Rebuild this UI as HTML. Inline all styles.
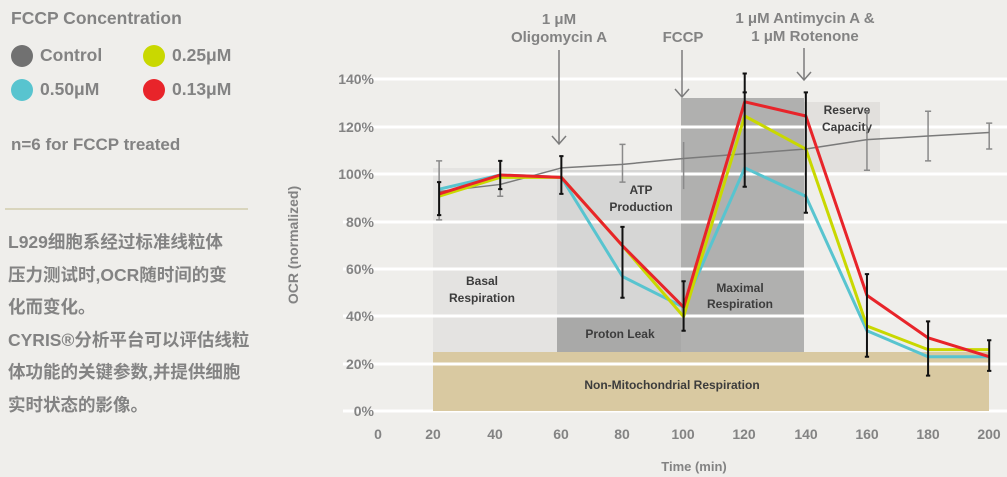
<!DOCTYPE html>
<html><head><meta charset="utf-8"><style>
body{margin:0;width:1007px;height:477px;background:#efeeeb;overflow:hidden;font-family:"Liberation Sans","Noto Sans CJK SC",sans-serif;}
.t{position:absolute;color:#838383;font-weight:bold;white-space:nowrap;}
.dot{position:absolute;width:22px;height:22px;border-radius:50%;}
</style></head><body>
<div class="t" style="left:11px;top:8px;font-size:17.5px;">FCCP Concentration</div>
<div class="dot" style="left:11px;top:45px;background:#717171"></div><div class="t" style="left:40px;top:45px;font-size:17.5px;">Control</div>
<div class="dot" style="left:143px;top:45px;background:#c9d800"></div><div class="t" style="left:172px;top:45px;font-size:17.5px;">0.25μM</div>
<div class="dot" style="left:11px;top:79px;background:#58c4cf"></div><div class="t" style="left:40px;top:79px;font-size:17.5px;">0.50μM</div>
<div class="dot" style="left:143px;top:79px;background:#e8242a"></div><div class="t" style="left:172px;top:79px;font-size:17.5px;">0.13μM</div>
<div class="t" style="left:11px;top:135px;font-size:17px;">n=6 for FCCP treated</div>
<div style="position:absolute;left:5px;top:208px;width:243px;height:2px;background:#d9d5bd"></div>
<div class="t" style="left:8px;top:226px;font-size:17.5px;line-height:32.6px;">L929细胞系经过标准线粒体<br>压力测试时,OCR随时间的变<br>化而变化。<br>CYRIS®分析平台可以评估线粒<br>体功能的关键参数,并提供细胞<br>实时状态的影像。</div>
<svg width="1007" height="477" style="position:absolute;left:0;top:0" font-family="Liberation Sans, sans-serif" font-weight="bold">
<rect x="433" y="168" width="124" height="243" fill="#e4e3e1"/>
<rect x="557" y="170" width="124" height="146" fill="#d6d6d5"/>
<rect x="557" y="316" width="124" height="36" fill="#a9a9a8"/>
<rect x="681" y="98" width="123" height="254" fill="#b0b0af"/>
<rect x="804" y="102" width="76" height="70" fill="#e2e0dd"/>
<g stroke="#fff" stroke-width="3">
<line x1="343" x2="1007" y1="79" y2="79"/><line x1="343" x2="1007" y1="127" y2="127"/><line x1="343" x2="1007" y1="174" y2="174"/><line x1="343" x2="1007" y1="222" y2="222"/><line x1="343" x2="1007" y1="269" y2="269"/><line x1="343" x2="1007" y1="316" y2="316"/><line x1="343" x2="1007" y1="364" y2="364"/><line x1="343" x2="1007" y1="411" y2="411"/>
</g>
<rect x="433" y="352" width="556" height="59" fill="#d9c9a1"/>
<line x1="433" x2="989" y1="364" y2="364" stroke="#fff" stroke-width="3"/>
<g fill="#838383" font-size="14" text-anchor="end">
<text x="374" y="84">140%</text><text x="374" y="132">120%</text><text x="374" y="179">100%</text><text x="374" y="227">80%</text><text x="374" y="274">60%</text><text x="374" y="321">40%</text><text x="374" y="369">20%</text><text x="374" y="416">0%</text>
</g>
<g fill="#838383" font-size="14" text-anchor="middle">
<text x="378" y="439">0</text><text x="433" y="439">20</text><text x="495" y="439">40</text><text x="561" y="439">60</text><text x="622" y="439">80</text><text x="683" y="439">100</text><text x="744" y="439">120</text><text x="806" y="439">140</text><text x="867" y="439">160</text><text x="928" y="439">180</text><text x="989" y="439">200</text>
<text x="694" y="471" font-size="13">Time (min)</text>
<text transform="translate(298,245) rotate(-90)" font-size="14">OCR (normalized)</text>
<text x="559" y="24" font-size="15">1 μM</text><text x="559" y="42" font-size="15">Oligomycin A</text>
<text x="683" y="42" font-size="15">FCCP</text>
<text x="805" y="23" font-size="15">1 μM Antimycin A &amp;</text><text x="805" y="41" font-size="15">1 μM  Rotenone</text>
</g>
<g stroke="#7c7c7c" stroke-width="1.5" fill="none">
<line x1="559" y1="50" x2="559" y2="144"/><path d="M552 136 L559 144 L566 136"/>
<line x1="682" y1="50" x2="682" y2="97"/><path d="M675 89 L682 97 L689 89"/>
<line x1="804" y1="48" x2="804" y2="80"/><path d="M797 72 L804 80 L811 72"/>
</g>
<g fill="#3c3c3c" font-size="12" text-anchor="middle">
<text x="482" y="285">Basal</text><text x="482" y="302">Respiration</text>
<text x="641" y="194">ATP</text><text x="641" y="211">Production</text>
<text x="620" y="338">Proton Leak</text>
<text x="740" y="292">Maximal</text><text x="740" y="308">Respiration</text>
<text x="847" y="114">Reserve</text><text x="847" y="131">Capacity</text>
<text x="672" y="389">Non-Mitochondrial Respiration</text>
</g>
<g transform="translate(378,411) scale(3.056,-2.36)" fill="none" stroke-linejoin="round">
<path vector-effect="non-scaling-stroke" stroke="#8a8a8a" stroke-width="1.5" d="M20 81V106M19 81H21M19 106H21 M40 91V106M39 91H41 M80 97V113M79 97H81M79 113H81 M100 94V114 M160 102V127M159 102H161M159 127H161 M180 106V127M179 106H181M179 127H181 M200 111V122M199 111H201M199 122H201"/>
<polyline vector-effect="non-scaling-stroke" stroke="#7a7a7a" stroke-width="1.5" points="20,93 40,96 60,103 80,104.5 100,107 120,109 140,111 160,115 180,116.5 200,118"/>
<polyline vector-effect="non-scaling-stroke" stroke="#58c4cf" stroke-width="3" points="20,94 40,100 60,99 80,57 100,44 120,103 140,91 160,34 180,23 200,23"/>
<polyline vector-effect="non-scaling-stroke" stroke="#c9d800" stroke-width="3" points="20,91 40,99 60,99 80,70 100,40 120,125 140,111 160,36 180,26 200,26"/>
<polyline vector-effect="non-scaling-stroke" stroke="#e8242a" stroke-width="3" points="20,92 40,100 60,99 80,70 100,44 120,131 140,125 160,49 180,31 200,23"/>
<path vector-effect="non-scaling-stroke" stroke="#111" stroke-width="2" d="M20 83V97M19.3 83H20.7M19.3 97H20.7 M40 94V106M39.3 94H40.7M39.3 106H40.7 M60 92V108M59.3 92H60.7M59.3 108H60.7 M80 48V78M79.3 48H80.7M79.3 78H80.7 M100 34V55M99.3 34H100.7M99.3 55H100.7 M120 95V143M119.3 95H120.7M119.3 143H120.7M119.3 135H120.7 M140 84V135M139.3 84H140.7M139.3 135H140.7 M160 23V58M159.3 23H160.7M159.3 58H160.7 M180 15V38M179.3 15H180.7M179.3 38H180.7 M200 17V30M199.3 17H200.7M199.3 30H200.7"/>
</g>
</svg>
</body></html>
